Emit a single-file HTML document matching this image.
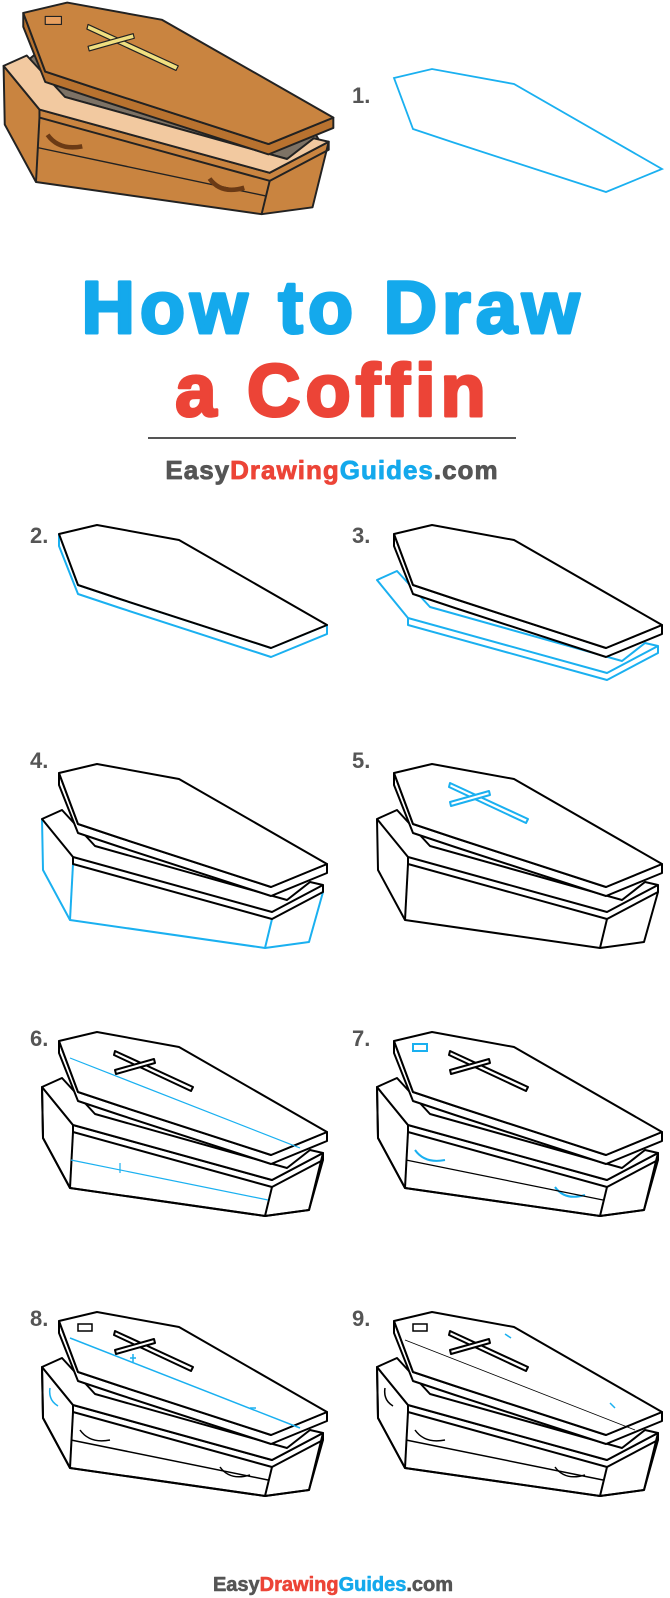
<!DOCTYPE html>
<html><head><meta charset="utf-8"><style>
body{margin:0;background:#fff;width:670px;height:1598px;overflow:hidden}
svg{display:block}
.n{font-family:"Liberation Sans",sans-serif;font-weight:bold;font-size:22px;fill:#555}
</style></head><body>
<svg width="670" height="1598" viewBox="0 0 670 1598" xmlns="http://www.w3.org/2000/svg">
<defs>
<g id="lidTop"><polygon points="59,773 97,764 179,779 327,864 271,887 120,838 78,824"/></g>
<g id="lidSide"><polygon points="59,773 78,824 120,838 271,887 327,864 327,873 271,896 120,847 78,833 59,785"/></g>
<g id="rim"><polygon points="42,819 62,810 95,846 287,900 310,882 323,885 272,912 73,857"/><polyline points="73,857 73,864 272,919 323,892 323,885" fill="none"/></g>
<g id="box"><polyline points="42,819 43,870 70,920 265,948 309,942 323,892" fill="none"/><polyline points="73,864 70,920" fill="none"/><polyline points="272,919 265,948" fill="none"/></g>
<g id="cross"><polygon points="114,787 115,783 193,819 191,823"/><polygon points="116,806 115,802 154,791 155,795"/></g>
<g id="full">
<g fill="#fff" stroke="#000" stroke-width="2" stroke-linejoin="round">
<polygon points="42,819 73,857 272,912 323,885 309,942 265,948 70,920 43,870"/>
<use href="#box"/><use href="#rim"/><use href="#lidSide"/><use href="#lidTop"/><use href="#cross"/>
</g></g>
</defs>

<!-- top colored coffin -->
<g transform="translate(-45,-876) scale(1.157,1.15)" stroke="#222" stroke-width="1.7" stroke-linejoin="round">
<polygon points="42,819 73,857 272,912 323,885 309,942 265,948 70,920 43,870" fill="#c98440"/>
<polygon points="62,815 95,846 287,900 315,884 300,860 80,800" fill="#7d7265"/>
<g fill="#f2c9a0"><use href="#rim"/></g>
<polyline points="73,864 70,920" fill="none"/><polyline points="272,919 265,948" fill="none"/>
<polyline points="71,890 268,932" fill="none" stroke-width="1.2"/>
<path d="M80,879 q10,14 30,10" fill="none" stroke="#6b3a15" stroke-width="4"/>
<path d="M220,917 q10,14 30,8" fill="none" stroke="#6b3a15" stroke-width="4"/>
<g fill="#b8722f"><use href="#lidSide"/></g>
<g fill="#c98440"><use href="#lidTop"/></g>
<g fill="#f0df80" stroke-width="1"><use href="#cross"/></g>
<rect x="78" y="776" width="14" height="7" fill="#e8a060" stroke-width="1"/>
</g>

<!-- step 1 -->
<g transform="translate(335,-695)" fill="none" stroke="#1ab0f0" stroke-width="1.8"><use href="#lidTop"/></g>
<text x="352" y="103" class="n">1.</text>

<!-- title -->
<g font-family="Liberation Sans,sans-serif" font-weight="bold" text-anchor="middle" stroke-linejoin="round">
<text x="333" y="333" font-size="74" letter-spacing="5" fill="#14a9ec" stroke="#14a9ec" stroke-width="3">How to Draw</text>
<text x="333" y="416" font-size="74" letter-spacing="5" fill="#ec4437" stroke="#ec4437" stroke-width="3">a Coffin</text>
<text x="332" y="479" font-size="26" letter-spacing="1" stroke-width="0.8"><tspan fill="#555" stroke="#555">Easy</tspan><tspan fill="#ec4437" stroke="#ec4437">Drawing</tspan><tspan fill="#14a9ec" stroke="#14a9ec">Guides</tspan><tspan fill="#555" stroke="#555">.com</tspan></text>
<text x="333" y="1591" font-size="20" stroke-width="0.6"><tspan fill="#555" stroke="#555">Easy</tspan><tspan fill="#ec4437" stroke="#ec4437">Drawing</tspan><tspan fill="#14a9ec" stroke="#14a9ec">Guides</tspan><tspan fill="#555" stroke="#555">.com</tspan></text>
</g>
<line x1="148" y1="438" x2="516" y2="438" stroke="#555" stroke-width="2"/>

<!-- step 2 -->
<g transform="translate(0,-239)" stroke-width="2" stroke-linejoin="round">
<g fill="#fff" stroke="#1ab0f0"><use href="#lidSide"/></g>
<g fill="#fff" stroke="#000"><use href="#lidTop"/></g></g>
<text x="30" y="543" class="n">2.</text>
<!-- step 3 -->
<g transform="translate(335,-239)" stroke-width="2" stroke-linejoin="round">
<g fill="#fff" stroke="#1ab0f0"><use href="#rim"/></g>
<g fill="#fff" stroke="#000"><use href="#lidSide"/><use href="#lidTop"/></g></g>
<text x="352" y="543" class="n">3.</text>
<!-- step 4 -->
<g stroke-width="2" stroke-linejoin="round">
<g fill="none" stroke="#1ab0f0"><use href="#box"/></g>
<g fill="#fff" stroke="#000"><use href="#rim"/><use href="#lidSide"/><use href="#lidTop"/></g></g>
<text x="30" y="768" class="n">4.</text>
<!-- step 5 -->
<g transform="translate(335,0)" stroke-width="2" stroke-linejoin="round">
<g fill="#fff" stroke="#000"><use href="#box"/><use href="#rim"/><use href="#lidSide"/><use href="#lidTop"/></g>
<g fill="#fff" stroke="#1ab0f0"><use href="#cross"/></g></g>
<text x="352" y="768" class="n">5.</text>
<!-- step 6 -->
<g transform="translate(0,268)"><use href="#full"/>
<g stroke="#1ab0f0" stroke-width="1.2" fill="none"><line x1="70" y1="790" x2="300" y2="880"/><line x1="71" y1="892" x2="268" y2="932"/><line x1="120" y1="895" x2="120" y2="905"/></g></g>
<text x="30" y="1046" class="n">6.</text>
<!-- step 7 -->
<g transform="translate(335,268)"><use href="#full"/>
<g stroke="#1ab0f0" stroke-width="2" fill="none"><path d="M80,882 q10,14 30,10"/><path d="M220,919 q10,14 30,8"/><rect x="78" y="776" width="14" height="7"/></g>
<line x1="71" y1="892" x2="268" y2="932" stroke="#000" stroke-width="1.2"/></g>
<text x="352" y="1046" class="n">7.</text>
<!-- step 8 -->
<g transform="translate(0,548)"><use href="#full"/>
<g stroke="#000" stroke-width="1.5" fill="none"><path d="M80,882 q10,14 30,10"/><path d="M220,919 q10,14 30,8"/><rect x="78" y="776" width="14" height="7"/><line x1="71" y1="892" x2="268" y2="932"/></g>
<g stroke="#1ab0f0" stroke-width="1.5" fill="none"><path d="M50,840 q-2,12 8,18"/><path d="M130,810 l6,0 M133,806 l0,8"/><path d="M250,860 l6,0"/><line x1="70" y1="790" x2="300" y2="880"/></g></g>
<text x="30" y="1326" class="n">8.</text>
<!-- step 9 -->
<g transform="translate(335,548)"><use href="#full"/>
<g stroke="#000" stroke-width="1.5" fill="none"><path d="M80,882 q10,14 30,10"/><path d="M220,919 q10,14 30,8"/><rect x="78" y="776" width="14" height="7"/><line x1="71" y1="892" x2="268" y2="932"/><path d="M50,840 q-2,12 8,18"/><line x1="70" y1="792" x2="300" y2="882" stroke-width="0.8"/></g>
<g stroke="#1ab0f0" stroke-width="1.5" fill="none"><path d="M170,786 l6,4"/><path d="M275,855 l5,5"/></g></g>
<text x="352" y="1326" class="n">9.</text>
</svg>
</body></html>
